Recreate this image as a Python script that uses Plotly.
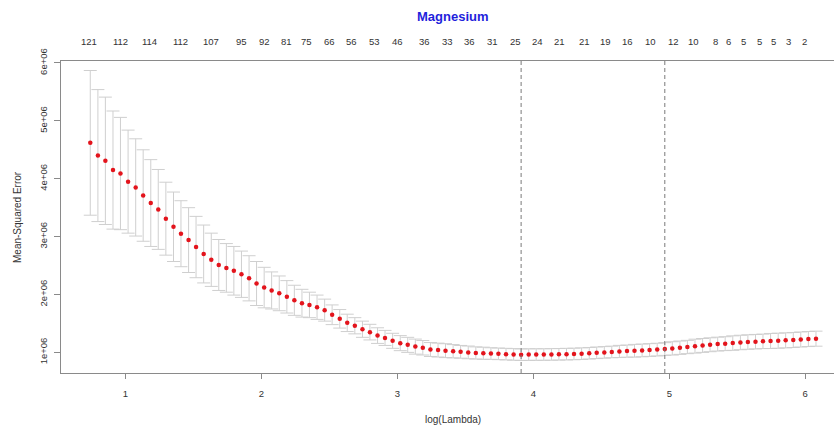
import plotly.graph_objects as go

# log(lambda) of each fitted lambda
log_lambda = [0.741, 0.797, 0.852, 0.908, 0.963, 1.019, 1.075, 1.130, 1.186, 1.241,
              1.297, 1.353, 1.408, 1.464, 1.519, 1.575, 1.631, 1.686, 1.742, 1.797,
              1.853, 1.909, 1.964, 2.020, 2.075, 2.131, 2.187, 2.242, 2.298, 2.353,
              2.409, 2.465, 2.520, 2.576, 2.631, 2.687, 2.743, 2.798, 2.854, 2.909,
              2.965, 3.021, 3.076, 3.132, 3.187, 3.243, 3.299, 3.354, 3.410, 3.465,
              3.521, 3.577, 3.632, 3.688, 3.743, 3.799, 3.855, 3.910, 3.966, 4.021,
              4.077, 4.133, 4.188, 4.244, 4.299, 4.355, 4.411, 4.466, 4.522, 4.577,
              4.633, 4.689, 4.744, 4.800, 4.855, 4.911, 4.967, 5.022, 5.078, 5.133,
              5.189, 5.245, 5.300, 5.356, 5.411, 5.467, 5.523, 5.578, 5.634, 5.689,
              5.745, 5.801, 5.856, 5.912, 5.967, 6.023, 6.079]

# mean cross-validated error (millions)
cvm_millions = [4.62, 4.40, 4.31, 4.15, 4.09, 3.95, 3.85, 3.71, 3.58, 3.47,
                3.31, 3.17, 3.05, 2.94, 2.82, 2.70, 2.60, 2.51, 2.46, 2.41,
                2.35, 2.28, 2.19, 2.12, 2.07, 2.02, 1.96, 1.90, 1.85, 1.82,
                1.78, 1.73, 1.65, 1.58, 1.51, 1.46, 1.40, 1.35, 1.29, 1.25,
                1.20, 1.16, 1.13, 1.10, 1.08, 1.05, 1.04, 1.03, 1.02, 1.01,
                1.00, 0.99, 0.985, 0.98, 0.975, 0.97, 0.965, 0.96, 0.962, 0.963,
                0.963, 0.965, 0.967, 0.97, 0.973, 0.978, 0.985, 0.993, 1.00, 1.008,
                1.016, 1.022, 1.028, 1.034, 1.041, 1.048, 1.058, 1.069, 1.081, 1.093,
                1.108, 1.12, 1.132, 1.143, 1.151, 1.161, 1.171, 1.179, 1.185, 1.191,
                1.197, 1.202, 1.208, 1.214, 1.223, 1.231, 1.237]

# standard error of the CV error (millions)
cvsd_millions = [1.25, 1.14, 1.10, 1.02, 0.97, 0.89, 0.84, 0.79, 0.75, 0.69,
                 0.63, 0.60, 0.57, 0.56, 0.53, 0.50, 0.46, 0.44, 0.42, 0.42,
                 0.40, 0.39, 0.38, 0.35, 0.32, 0.30, 0.28, 0.26, 0.24, 0.22,
                 0.21, 0.19, 0.17, 0.16, 0.15, 0.14, 0.14, 0.135, 0.135, 0.13,
                 0.13, 0.13, 0.13, 0.13, 0.125, 0.12, 0.12, 0.12, 0.115, 0.11,
                 0.11, 0.105, 0.105, 0.10, 0.10, 0.10, 0.10, 0.10, 0.10, 0.10,
                 0.10, 0.10, 0.10, 0.10, 0.10, 0.10, 0.10, 0.10, 0.10, 0.10,
                 0.105, 0.105, 0.11, 0.11, 0.11, 0.11, 0.11, 0.115, 0.115, 0.115,
                 0.12, 0.12, 0.12, 0.12, 0.12, 0.125, 0.125, 0.125, 0.125, 0.125,
                 0.13, 0.13, 0.13, 0.13, 0.13, 0.13, 0.13]

# number of non-zero coefficients shown along the top
nz_positions = [0.732, 0.960, 1.180, 1.408, 1.629, 1.850, 2.019, 2.181, 2.335, 2.497,
                2.666, 2.835, 3.004, 3.196, 3.365, 3.534, 3.696, 3.872, 4.027, 4.196,
                4.373, 4.534, 4.689, 4.865, 5.034, 5.181, 5.343, 5.439, 5.549, 5.660,
                5.770, 5.880, 5.991]
nz_labels = ["121", "112", "114", "112", "107", "95", "92", "81", "75", "66",
             "56", "53", "46", "36", "33", "36", "31", "25", "24", "21",
             "21", "19", "16", "10", "12", "10", "8", "6", "5", "5",
             "5", "3", "2"]

x_ticks = [1, 2, 3, 4, 5, 6]
y_ticks = [1e6, 2e6, 3e6, 4e6, 5e6, 6e6]
y_tick_labels = ["1e+06", "2e+06", "3e+06", "4e+06", "5e+06", "6e+06"]

lambda_min = log_lambda[57]
lambda_1se = log_lambda[76]

cvm = [v * 1e6 for v in cvm_millions]
cvsd = [v * 1e6 for v in cvsd_millions]

FONT = "Liberation Sans, Arial, sans-serif"
W, H = 834, 428
L, R, T, B = 61, 0, 61, 55
pw = W - L - R
ph = H - T - B


def ypaper(px):
    return (H - B - px) / ph


def xpaper(px):
    return (px - L) / pw


fig = go.Figure()
fig.add_trace(go.Scatter(
    x=log_lambda, y=cvm, mode="markers",
    marker=dict(color="#e3141c", size=4.5, line=dict(width=0)),
    error_y=dict(type="data", array=cvsd, visible=True,
                 color="#cfcfcf", thickness=1, width=6.5),
    showlegend=False, hoverinfo="x+y",
))

for v in (lambda_min, lambda_1se):
    fig.add_shape(type="line", xref="x", yref="paper", x0=v, x1=v, y0=0, y1=1,
                  line=dict(color="#7a7a7a", width=1, dash="4px,3px"))

for p, lab in zip(nz_positions, nz_labels):
    fig.add_annotation(x=p, y=ypaper(41.5), xref="x", yref="paper", text=lab,
                       showarrow=False, xanchor="center", yanchor="middle",
                       font=dict(family=FONT, size=9.5, color="#333333"))

fig.add_annotation(x=xpaper(453), y=ypaper(16), xref="paper", yref="paper",
                   text="<b>Magnesium</b>", showarrow=False,
                   xanchor="center", yanchor="middle",
                   font=dict(family=FONT, size=13, color="#1f1fdc"))
fig.add_annotation(x=xpaper(453), y=ypaper(419), xref="paper", yref="paper",
                   text="log(Lambda)", showarrow=False,
                   xanchor="center", yanchor="middle",
                   font=dict(family=FONT, size=10, color="#333333"))
fig.add_annotation(x=xpaper(17), y=ypaper(217), xref="paper", yref="paper",
                   text="Mean-Squared Error", showarrow=False, textangle=-90,
                   xanchor="center", yanchor="middle",
                   font=dict(family=FONT, size=10, color="#333333"))

fig.update_layout(
    width=W, height=H,
    margin=dict(l=L, r=R, t=T, b=B, pad=0),
    paper_bgcolor="white", plot_bgcolor="white",
    xaxis=dict(range=[0.5256, 6.2115], tickvals=x_ticks, ticktext=[str(t) for t in x_ticks],
               showgrid=False, zeroline=False, showline=True, mirror=True,
               linecolor="#8a8a8a", linewidth=1.2,
               ticks="outside", ticklen=5, tickcolor="#8a8a8a",
               ticklabelstandoff=6,
               tickfont=dict(family=FONT, size=9.5, color="#333333")),
    yaxis=dict(range=[0.644e6, 6.034e6], tickvals=y_ticks, ticktext=y_tick_labels,
               showgrid=False, zeroline=False, showline=True, mirror=False,
               linecolor="#8a8a8a", linewidth=1.2,
               ticks="outside", ticklen=6, tickcolor="#8a8a8a",
               tickangle=-90, ticklabelstandoff=3,
               tickfont=dict(family=FONT, size=9.5, color="#333333")),
    font=dict(family=FONT),
)

fig.write_html("out.html")
